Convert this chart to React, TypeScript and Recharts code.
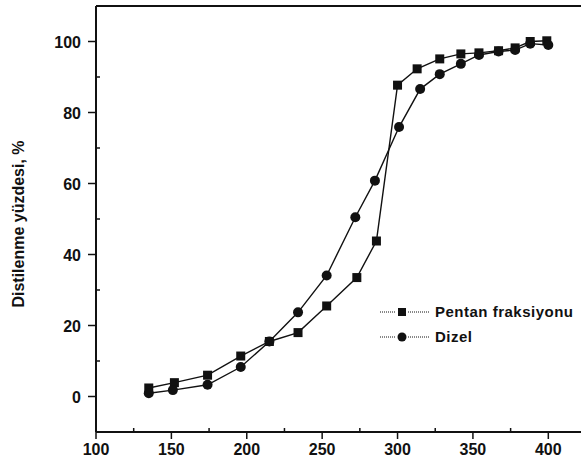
import { LineChart, Line, XAxis, YAxis, ReferenceLine, Legend } from 'recharts';

// distillation temperature (x) vs distilled percentage (y)
const pentanTemp = [135, 152, 174, 196, 215, 234, 253, 273, 286, 300, 313, 328, 342, 354, 367, 378, 388, 399];
const pentanPct = [2.4, 3.9, 6.0, 11.4, 15.5, 18.0, 25.5, 33.5, 43.8, 87.7, 92.3, 95.1, 96.5, 96.8, 97.4, 98.2, 100, 100.2];
const dizelTemp = [135, 151, 174, 196, 215, 234, 253, 272, 285, 301, 315, 328, 342, 354, 367, 378, 388, 400];
const dizelPct = [0.9, 1.8, 3.3, 8.3, 15.5, 23.7, 34.1, 50.5, 60.8, 75.9, 86.6, 90.8, 93.7, 96.2, 97.2, 97.6, 99.4, 99.0];

const xTicks = [100, 125, 150, 175, 200, 225, 250, 275, 300, 325, 350, 375, 400];
const yTicks = [0, 10, 20, 30, 40, 50, 60, 70, 80, 90, 100];

const seriesNames = ['Pentan fraksiyonu', 'Dizel'];
const yLabel = 'Distilenme yüzdesi, %';

const pentan = pentanTemp.map((x, i) => ({ x, y: pentanPct[i] }));
const dizel = dizelTemp.map((x, i) => ({ x, y: dizelPct[i] }));

const INK = '#111';
const FONT = '"Liberation Sans", Arial, sans-serif';

const SquareDot = (props: any) => {
  const { cx, cy } = props;
  if (cx == null || cy == null) return <g />;
  return <rect x={cx - 4.5} y={cy - 4.5} width={9} height={9} fill={INK} />;
};

const RoundDot = (props: any) => {
  const { cx, cy } = props;
  if (cx == null || cy == null) return <g />;
  return <circle cx={cx} cy={cy} r={5} fill={INK} />;
};

const XTick = (props: any) => {
  const { x, y, payload } = props;
  const major = payload.value % 50 === 0;
  return (
    <g>
      <line x1={x} x2={x} y1={y} y2={major ? y + 7 : y - 4} stroke={INK} strokeWidth={1.5} />
      {major && (
        <text x={x} y={y + 23} textAnchor="middle" fontSize={16} fontWeight="bold" fill={INK} fontFamily={FONT}>
          {payload.value}
        </text>
      )}
    </g>
  );
};

const YTick = (props: any) => {
  const { x, y, payload } = props;
  const major = payload.value % 20 === 0;
  return (
    <g>
      <line x1={x} x2={major ? x - 8 : x + 4} y1={y} y2={y} stroke={INK} strokeWidth={1.5} />
      {major && (
        <text x={x - 15} y={y + 6} textAnchor="end" fontSize={16} fontWeight="bold" fill={INK} fontFamily={FONT}>
          {payload.value}
        </text>
      )}
    </g>
  );
};

const YLabel = (props: any) => {
  const vb = props.viewBox;
  const cx = 18;
  const cy = vb.y + vb.height / 2 + 5;
  return (
    <text
      x={cx}
      y={cy}
      transform={`rotate(-90 ${cx} ${cy})`}
      textAnchor="middle"
      dominantBaseline="central"
      fontSize={16}
      fontWeight="bold"
      fill={INK}
      fontFamily={FONT}
    >
      {yLabel}
    </text>
  );
};

const LegendBox = () => (
  <div style={{ fontFamily: FONT }}>
    {seriesNames.map((name, i) => (
      <div key={name} style={{ display: 'flex', alignItems: 'center', height: 25 }}>
        <svg width={55} height={20}>
          <line x1={0} x2={16} y1={10} y2={10} stroke={INK} strokeWidth={1} strokeDasharray="1 1" />
          {i === 0 ? (
            <rect x={18} y={6} width={8} height={8} fill={INK} />
          ) : (
            <circle cx={22} cy={10} r={4.5} fill={INK} />
          )}
          <line x1={28} x2={50} y1={10} y2={10} stroke={INK} strokeWidth={1} strokeDasharray="1 1" />
        </svg>
        <span style={{ fontSize: 15, fontWeight: 'bold', color: INK, letterSpacing: 0.5 }}>{name}</span>
      </div>
    ))}
  </div>
);

export default function App() {
  return (
    <div style={{ position: 'absolute', left: 0, top: 0, width: 581, height: 469, overflow: 'hidden', background: '#fff' }}>
      <LineChart width={600} height={469} margin={{ top: 6, right: 14, bottom: 0, left: 0 }}>
        <XAxis
          type="number"
          dataKey="x"
          domain={[100, 425]}
          ticks={xTicks}
          interval={0}
          height={37}
          tickSize={0}
          tickMargin={0}
          tickLine={false}
          tick={<XTick />}
          axisLine={{ stroke: INK, strokeWidth: 2 }}
          allowDataOverflow
        />
        <YAxis
          type="number"
          dataKey="y"
          domain={[-10, 110]}
          ticks={yTicks}
          interval={0}
          width={96}
          tickSize={0}
          tickMargin={0}
          tickLine={false}
          tick={<YTick />}
          axisLine={{ stroke: INK, strokeWidth: 2 }}
          label={<YLabel />}
          allowDataOverflow
        />
        <ReferenceLine y={110} stroke={INK} strokeWidth={2} />
        <Line
          data={pentan}
          dataKey="y"
          name={seriesNames[0]}
          type="linear"
          stroke={INK}
          strokeWidth={1.4}
          dot={<SquareDot />}
          activeDot={false}
          isAnimationActive={false}
        />
        <Line
          data={dizel}
          dataKey="y"
          name={seriesNames[1]}
          type="linear"
          stroke={INK}
          strokeWidth={1.4}
          dot={<RoundDot />}
          activeDot={false}
          isAnimationActive={false}
        />
        <Legend
          layout="horizontal"
          verticalAlign="middle"
          align="center"
          content={<LegendBox />}
          wrapperStyle={{ left: 380, top: 299, width: 200 }}
        />
      </LineChart>
    </div>
  );
}
